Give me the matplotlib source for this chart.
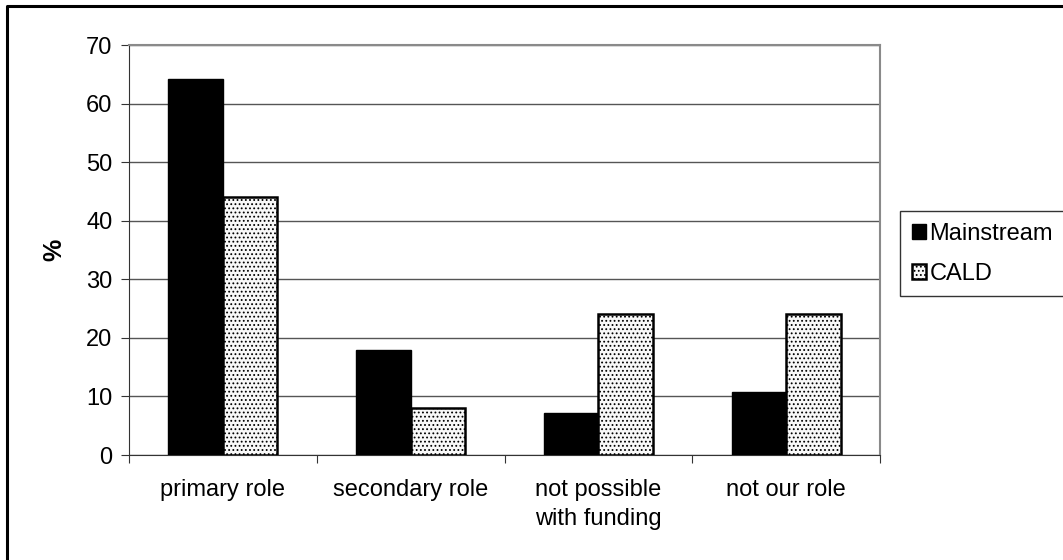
import matplotlib.pyplot as plt
import matplotlib.lines as mlines
import numpy as np

plt.rcParams['font.family'] = ['Liberation Sans', 'DejaVu Sans']
plt.rcParams['hatch.linewidth'] = 0.8
plt.rcParams['hatch.color'] = '#cfcfcf'

categories = ['primary role', 'secondary role', 'not possible\nwith funding', 'not our role']
mainstream = [64.2, 18, 7.2, 10.7]
cald = [44, 8, 24, 24]

W, H = 1063, 560
fig = plt.figure(figsize=(W / 100, H / 100), dpi=100)
ax = fig.add_axes([129 / W, 1 - 455 / H, (880 - 129) / W, (455 - 45) / H])

x = np.arange(len(categories))
w = 0.29
ax.bar(x - w / 2, mainstream, w, color='black', edgecolor='black', linewidth=1.0,
       label='Mainstream', zorder=3)
ax.bar(x + w / 2, cald, w, color='#f8f8f8', edgecolor='black', linewidth=1.8,
       hatch='....', label='CALD', zorder=3)

ax.set_xlim(-0.5, 3.5)
ax.set_ylim(0, 70)
ax.set_yticks(range(0, 80, 10))
ax.yaxis.grid(True, color='#555555', linewidth=1.0, zorder=0)

# category boundaries as major ticks, names centred as minor ticks
ax.set_xticks(np.arange(-0.5, 4, 1))
ax.set_xticklabels([])
ax.set_xticks(x, minor=True)
ax.set_xticklabels(categories, minor=True, fontsize=17, linespacing=1.45)
ax.tick_params(axis='x', which='minor', length=0, pad=17)
ax.tick_params(axis='x', which='major', length=6, direction='out', color='#333333')
ax.tick_params(axis='y', length=6, direction='out', labelsize=17, pad=6, color='#333333')

ax.spines['left'].set_color('#333333')
ax.spines['bottom'].set_color('#333333')
ax.spines['top'].set_color('#8a8a8a')
ax.spines['right'].set_color('#8a8a8a')
ax.spines['top'].set_linewidth(1.5)
ax.spines['right'].set_linewidth(1.5)

ax.set_ylabel('%', fontsize=18, fontweight='bold', labelpad=14)

leg = fig.legend(loc='upper left', bbox_to_anchor=(900 / W, 1 - 211 / H),
                 fontsize=17, frameon=True, fancybox=False, edgecolor='black',
                 handlelength=0.6, handleheight=0.6, handletextpad=0.15,
                 borderpad=0.5, labelspacing=0.75, borderaxespad=0)
leg.get_frame().set_linewidth(1.0)

# outer chart border (left and top edges)
fig.add_artist(mlines.Line2D([7 / W, 7 / W, 1.0], [0.0, 1 - 6 / H, 1 - 6 / H],
                             transform=fig.transFigure, color='black', linewidth=2.2))

fig.savefig('out.png', dpi=100)
